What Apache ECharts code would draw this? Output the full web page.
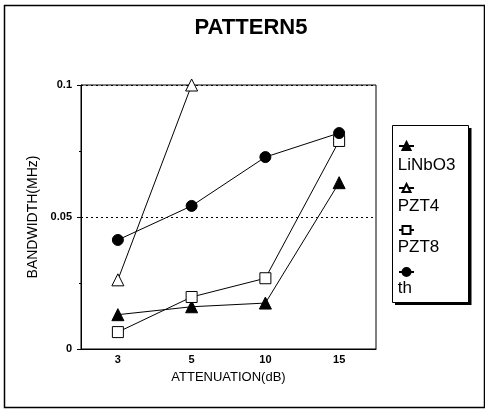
<!DOCTYPE html>
<html>
<head>
<meta charset="utf-8">
<script src="https://cdn.jsdelivr.net/npm/echarts@6/dist/echarts.min.js"></script>
<style>html,body{margin:0;padding:0;background:#fff}#c{width:485px;height:412px}</style>
</head>
<body>
<div id="c"></div>
<script>
var categories = ['3', '5', '10', '15'];
var seriesNames = ['LiNbO3', 'PZT4', 'PZT8', 'th'];
var linbo3 = [0.013, 0.016, 0.0174, 0.063];
var pzt4 = [0.0262, 0.1, null, null];
var pzt8 = [0.0064, 0.0197, 0.0268, 0.0788];
var th = [0.0413, 0.0542, 0.0727, 0.0818];

var FONT = '"Liberation Sans", Arial, sans-serif';
var chart = echarts.init(document.getElementById('c'));

function mkSeries(name, data, symbol, size, fill) {
  return {
    name: name, type: 'line', data: data, symbol: symbol, symbolSize: size,
    clip: false, connectNulls: false,
    lineStyle: { color: '#000', width: 1 },
    itemStyle: { color: fill, borderColor: '#000', borderWidth: 1 },
    emphasis: { disabled: true }
  };
}

chart.setOption({
  animation: false,
  backgroundColor: '#fff',
  title: {
    text: 'PATTERN5', left: 246, top: 12, textAlign: 'center',
    textStyle: { fontFamily: FONT, fontSize: 22, fontWeight: 'bold', color: '#000' }
  },
  graphic: [
    { type: 'rect', z: -10, shape: { x: 4.5, y: 5.5, width: 480, height: 402 },
      style: { fill: 'none', stroke: '#000', lineWidth: 1.5 } },
    { type: 'rect', z: 0, shape: { x: 395, y: 128, width: 76.5, height: 177 },
      style: { fill: '#000' } },
    { type: 'rect', z: 1, shape: { x: 392.5, y: 125.5, width: 76, height: 177 },
      style: { fill: '#fff', stroke: '#000', lineWidth: 1 } }
  ],
  legend: [
    {
      data: seriesNames, orient: 'vertical', left: 393, top: 136,
      itemWidth: 15, itemHeight: 10, itemGap: 32,
      formatter: function () { return ''; },
      selectedMode: false, z: 5,
      textStyle: { fontSize: 1 }
    },
    {
      data: seriesNames, orient: 'vertical', left: 379, top: 152,
      itemWidth: 1, itemHeight: 18, itemGap: 24, selectedMode: false, z: 5,
      itemStyle: { opacity: 0 }, lineStyle: { opacity: 0 },
      textStyle: { fontFamily: FONT, fontSize: 17, color: '#000' }
    }
  ],
  grid: { left: 81, right: 109, top: 85, bottom: 63, show: true, borderColor: '#000', borderWidth: 1, backgroundColor: 'transparent' },
  xAxis: {
    type: 'category', data: categories, boundaryGap: true,
    name: 'ATTENUATION(dB)', nameLocation: 'middle', nameGap: 22,
    nameTextStyle: { fontFamily: FONT, fontSize: 13, color: '#000' },
    axisLine: { lineStyle: { color: '#000', width: 1 } },
    axisTick: { alignWithLabel: true, length: 4, lineStyle: { color: '#000' } },
    axisLabel: { margin: 5, fontFamily: FONT, fontSize: 11, fontWeight: 'bold', color: '#000' },
    splitLine: { show: false }
  },
  yAxis: {
    type: 'value', min: 0, max: 0.1, interval: 0.05,
    name: 'BANDWIDTH(MHz)', nameLocation: 'middle', nameGap: 32,
    nameTextStyle: { fontFamily: FONT, fontSize: 14, color: '#000' },
    axisLine: { show: true, lineStyle: { color: '#000', width: 1 } },
    axisTick: { show: true, length: 4, lineStyle: { color: '#000' } },
    minorTick: { show: true, splitNumber: 2, length: 2, lineStyle: { color: '#000' } },
    axisLabel: { margin: 9, fontFamily: FONT, fontSize: 11, fontWeight: 'bold', color: '#000' },
    splitLine: { show: true, lineStyle: { color: '#000', type: [2, 3], width: 1 } }
  },
  series: [
    mkSeries('LiNbO3', linbo3, 'triangle', 12, '#000'),
    mkSeries('PZT4', pzt4, 'triangle', 12, '#fff'),
    mkSeries('PZT8', pzt8, 'rect', 11, '#fff'),
    mkSeries('th', th, 'circle', 11, '#000')
  ]
});
</script>
</body>
</html>
